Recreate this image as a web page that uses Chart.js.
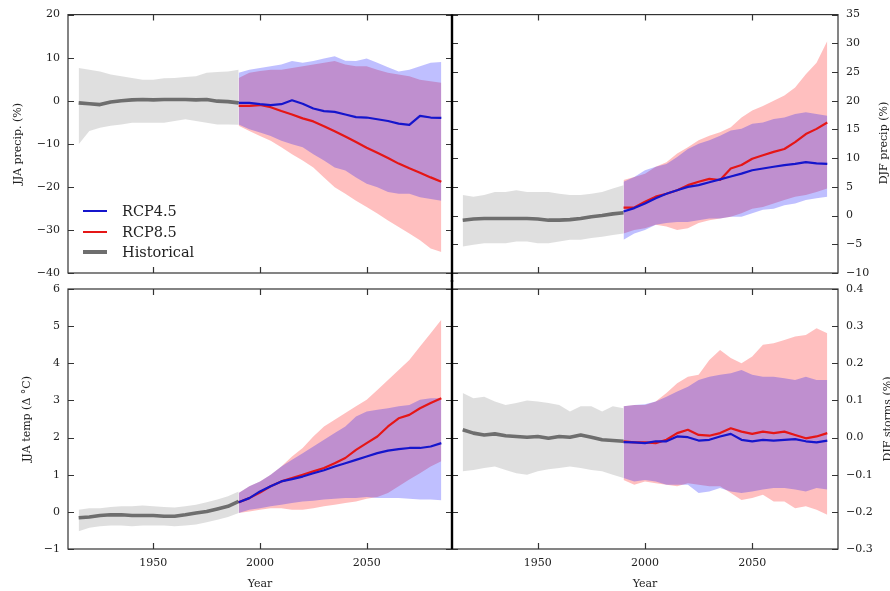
<!DOCTYPE html>
<html><head><meta charset="utf-8">
<script src="https://cdn.jsdelivr.net/npm/chart.js@4.4.0/dist/chart.umd.min.js"></script>
<style>
html,body{margin:0;padding:0;background:#fff;}
#wrap{position:relative;width:890px;height:591px;overflow:hidden;background:#fff;font-family:'DejaVu Serif',serif;}
#wrap canvas{position:absolute;left:0;top:0;}
.rt{position:absolute;white-space:nowrap;font-size:11px;color:#222;transform:translate(-50%,-50%) rotate(-90deg);}
#legend{position:absolute;left:83px;top:201px;font-size:14.5px;color:#222;}
.li{display:flex;align-items:center;height:20.5px;}
.sw{width:24px;margin-right:15px;}
</style></head><body>
<div id="wrap">
<canvas id="cTL" width="890" height="591"></canvas>
<canvas id="cTR" width="890" height="591"></canvas>
<canvas id="cBL" width="890" height="591"></canvas>
<canvas id="cBR" width="890" height="591"></canvas>
<div class="rt" style="left:883px;top:143px">DJF precip (%)</div>
<div class="rt" style="left:887px;top:419px">DJF storms (%)</div>
<div id="legend"></div>
</div>
<script>
// ---------- data ----------
const histYears = [1915,1920,1925,1930,1935,1940,1945,1950,1955,1960,1965,1970,1975,1980,1985,1990];
const rcpYears  = [1990,1995,2000,2005,2010,2015,2020,2025,2030,2035,2040,2045,2050,2055,2060,2065,2070,2075,2080,2085];
const xTicks = [1950, 2000, 2050];
const legendOrder = ['RCP4.5', 'RCP8.5', 'Historical'];

// JJA precip (%)
const tlYTicks = [-40,-30,-20,-10,0,10,20];
const tlHist   = [-0.5,-0.7,-0.9,-0.3,0.0,0.2,0.3,0.2,0.3,0.3,0.3,0.2,0.3,-0.1,-0.2,-0.5];
const tlHistHi = [7.6,7.2,6.8,6.1,5.7,5.3,4.9,4.9,5.2,5.3,5.5,5.7,6.5,6.7,6.8,7.2];
const tlHistLo = [-10.1,-7.0,-6.3,-5.8,-5.5,-5.1,-5.1,-5.1,-5.1,-4.7,-4.3,-4.7,-5.1,-5.5,-5.5,-5.6];
const tlR45    = [-0.5,-0.5,-0.8,-1.0,-0.8,0.1,-0.7,-1.8,-2.4,-2.6,-3.2,-3.8,-3.9,-4.3,-4.7,-5.3,-5.6,-3.5,-3.9,-4.0];
const tlR45Hi  = [6.5,7.2,7.6,8.0,8.4,9.2,8.8,9.2,9.8,10.3,9.3,9.2,9.8,8.8,7.8,6.8,7.2,8.0,8.8,9.0];
const tlR45Lo  = [-5.5,-6.6,-7.4,-8.2,-9.3,-10.1,-10.8,-12.4,-13.9,-15.5,-16.2,-17.8,-19.3,-20.1,-21.2,-21.6,-21.6,-22.4,-22.8,-23.2];
const tlR85    = [-1.2,-1.2,-1.0,-1.5,-2.4,-3.2,-4.1,-4.8,-5.9,-7.1,-8.3,-9.6,-10.9,-12.1,-13.3,-14.6,-15.7,-16.7,-17.8,-18.8];
const tlR85Hi  = [5.3,6.5,6.9,7.2,7.2,7.6,8.0,8.4,8.8,9.2,8.4,8.0,8.0,7.2,6.5,6.1,5.7,4.9,4.5,4.2];
const tlR85Lo  = [-5.8,-7.0,-8.2,-9.3,-10.8,-12.4,-13.9,-15.5,-17.8,-20.1,-21.6,-23.2,-24.7,-26.2,-27.8,-29.3,-30.8,-32.4,-34.3,-35.1];

// DJF precip (%)
const trYTicks = [-10,-5,0,5,10,15,20,25,30,35];
const trHist   = [-0.8,-0.6,-0.5,-0.5,-0.5,-0.5,-0.5,-0.6,-0.8,-0.8,-0.7,-0.5,-0.2,0.0,0.3,0.5];
const trHistHi = [3.6,3.3,3.6,4.1,4.1,4.4,4.1,4.1,4.1,3.8,3.6,3.6,3.8,4.1,4.7,5.3];
const trHistLo = [-5.4,-5.1,-4.8,-4.8,-4.8,-4.5,-4.5,-4.8,-4.8,-4.5,-4.2,-4.2,-3.9,-3.7,-3.4,-3.1];
const trR45    = [0.7,1.3,2.1,3.0,3.8,4.4,5.0,5.3,5.8,6.3,6.8,7.3,7.9,8.2,8.5,8.8,9.0,9.3,9.1,9.0];
const trR45Hi  = [5.9,6.7,7.9,8.5,9.0,10.2,11.6,12.5,13.1,13.9,14.8,15.1,16.0,16.2,16.8,17.1,17.7,18.0,17.7,17.4];
const trR45Lo  = [-4.2,-3.1,-2.5,-1.6,-1.3,-1.1,-1.1,-0.8,-0.5,-0.5,-0.2,-0.2,0.4,1.0,1.2,1.8,2.1,2.7,3.0,3.3];
const trR85    = [1.4,1.4,2.4,3.3,3.8,4.4,5.3,5.9,6.4,6.2,8.2,8.8,9.9,10.5,11.1,11.6,12.8,14.2,15.1,16.2];
const trR85Hi  = [6.2,6.7,7.3,8.5,9.3,10.8,11.9,13.1,13.9,14.5,15.4,17.1,18.3,19.1,20.0,20.9,22.3,24.6,26.6,30.4];
const trR85Lo  = [-3.1,-2.5,-2.2,-1.6,-1.9,-2.5,-2.2,-1.3,-0.8,-0.5,-0.2,0.4,1.2,1.5,2.1,2.7,3.3,3.6,4.1,4.7];

// JJA temp (Δ °C)
const blYTicks = [-1,0,1,2,3,4,5,6];
const blHist   = [-0.16,-0.14,-0.10,-0.08,-0.08,-0.10,-0.10,-0.10,-0.12,-0.12,-0.08,-0.03,0.01,0.08,0.15,0.28];
const blHistHi = [0.06,0.10,0.10,0.13,0.15,0.15,0.17,0.15,0.13,0.12,0.15,0.19,0.26,0.33,0.42,0.55];
const blHistLo = [-0.52,-0.43,-0.39,-0.37,-0.37,-0.39,-0.37,-0.37,-0.37,-0.39,-0.37,-0.34,-0.28,-0.21,-0.14,-0.03];
const blR45    = [0.26,0.37,0.55,0.69,0.82,0.88,0.95,1.04,1.12,1.22,1.31,1.40,1.49,1.58,1.65,1.69,1.72,1.72,1.76,1.85];
const blR45Hi  = [0.51,0.69,0.82,1.00,1.22,1.40,1.58,1.76,1.94,2.12,2.30,2.57,2.70,2.75,2.79,2.84,2.88,3.02,3.06,3.06];
const blR45Lo  = [-0.03,0.06,0.10,0.15,0.19,0.24,0.28,0.30,0.33,0.35,0.37,0.37,0.40,0.37,0.37,0.37,0.35,0.33,0.33,0.31];
const blR85    = [0.26,0.37,0.52,0.69,0.82,0.91,1.00,1.09,1.18,1.31,1.45,1.67,1.85,2.03,2.30,2.52,2.61,2.79,2.93,3.06];
const blR85Hi  = [0.51,0.69,0.82,1.00,1.22,1.49,1.72,2.03,2.30,2.48,2.66,2.84,3.02,3.28,3.55,3.82,4.09,4.45,4.81,5.17];
const blR85Lo  = [-0.03,0.01,0.06,0.10,0.10,0.06,0.06,0.10,0.15,0.19,0.24,0.28,0.35,0.40,0.51,0.69,0.87,1.04,1.22,1.36];

// DJF storms (%)
const brYTicks = [-0.3,-0.2,-0.1,0.0,0.1,0.2,0.3,0.4];
const brHist   = [0.021,0.012,0.007,0.010,0.005,0.003,0.001,0.003,-0.002,0.003,0.001,0.007,0.001,-0.006,-0.008,-0.010];
const brHistHi = [0.120,0.106,0.110,0.097,0.088,0.093,0.100,0.097,0.093,0.088,0.070,0.084,0.084,0.070,0.084,0.079];
const brHistLo = [-0.091,-0.087,-0.082,-0.078,-0.087,-0.096,-0.100,-0.091,-0.085,-0.082,-0.078,-0.082,-0.087,-0.091,-0.100,-0.109];
const brR45    = [-0.012,-0.013,-0.015,-0.010,-0.010,0.003,0.001,-0.008,-0.006,0.003,0.010,-0.006,-0.010,-0.006,-0.008,-0.006,-0.004,-0.010,-0.013,-0.008];
const brR45Hi  = [0.084,0.088,0.090,0.097,0.110,0.124,0.137,0.155,0.164,0.169,0.173,0.182,0.169,0.164,0.164,0.160,0.155,0.164,0.155,0.155];
const brR45Lo  = [-0.109,-0.118,-0.114,-0.118,-0.127,-0.127,-0.127,-0.149,-0.145,-0.136,-0.145,-0.149,-0.145,-0.140,-0.136,-0.136,-0.140,-0.145,-0.136,-0.140];
const brR85    = [-0.010,-0.013,-0.013,-0.015,-0.006,0.012,0.021,0.007,0.005,0.012,0.025,0.016,0.010,0.016,0.012,0.016,0.007,-0.002,0.003,0.012];
const brR85Hi  = [0.084,0.088,0.088,0.097,0.120,0.146,0.164,0.169,0.209,0.236,0.214,0.200,0.218,0.250,0.254,0.263,0.272,0.276,0.294,0.281];
const brR85Lo  = [-0.114,-0.127,-0.118,-0.123,-0.127,-0.131,-0.123,-0.127,-0.131,-0.131,-0.149,-0.168,-0.163,-0.154,-0.172,-0.172,-0.190,-0.185,-0.194,-0.208];

// ---------- styling ----------
const C = {
  histLine: '#6e6e6e', r45Line: '#1515cc', r85Line: '#e51616',
  histFill: 'rgba(128,128,128,0.25)', r45Fill: 'rgba(0,0,255,0.25)', r85Fill: 'rgba(255,0,0,0.25)',
  frame: '#333', text: '#222'
};
const FONT = {family: "'DejaVu Serif', serif", size: 11};
const minus = s => String(s).replace('-', '\u2212');

const pts = (xs, ys) => xs.map((x, i) => ({x: x, y: ys[i]}));
const lineDs = (label, xs, ys, color, w, order) => ({
  label, data: pts(xs, ys), borderColor: color, backgroundColor: color, borderWidth: w,
  pointRadius: 0, fill: false, tension: 0, order, borderJoinStyle: 'round'
});
const edgeDs = (xs, ys, order) => ({
  data: pts(xs, ys), borderColor: 'rgba(0,0,0,0)', borderWidth: 0, pointRadius: 0, fill: false, order
});
const fillDs = (xs, ys, color, order) => ({
  data: pts(xs, ys), borderColor: 'rgba(0,0,0,0)', borderWidth: 0, pointRadius: 0,
  fill: '-1', backgroundColor: color, order
});

const framePlugin = {
  id: 'frame',
  afterDatasetsDraw(chart, args, opts) {
    const {ctx, chartArea: a, scales} = chart;
    ctx.save();
    ctx.strokeStyle = C.frame;
    ctx.lineWidth = 1.2;
    ctx.strokeRect(a.left, a.top, a.right - a.left, a.bottom - a.top);
    const L = 6;
    ctx.beginPath();
    scales.x.ticks.forEach(t => {
      const p = Math.round(scales.x.getPixelForValue(t.value)) + 0.5;
      ctx.moveTo(p, a.top); ctx.lineTo(p, a.top + L);
      ctx.moveTo(p, a.bottom); ctx.lineTo(p, a.bottom - L);
    });
    scales.y.ticks.forEach(t => {
      const p = Math.round(scales.y.getPixelForValue(t.value)) + 0.5;
      ctx.moveTo(a.left, p); ctx.lineTo(a.left + L, p);
      ctx.moveTo(a.right, p); ctx.lineTo(a.right - L, p);
    });
    ctx.stroke();
    if (opts.sep) {
      ctx.strokeStyle = '#000';
      ctx.lineWidth = 2.4;
      ctx.beginPath();
      ctx.moveTo(a.left, a.top - opts.sep[0]);
      ctx.lineTo(a.left, a.bottom + opts.sep[1]);
      ctx.stroke();
    }
    ctx.restore();
  }
};

function makePanel(id, p) {
  const left = p.side === 'left';
  const datasets = [
    lineDs('Historical', histYears, p.hist, C.histLine, 3.6, 2),
    lineDs('RCP4.5', rcpYears, p.r45, C.r45Line, 2.2, 0),
    lineDs('RCP8.5', rcpYears, p.r85, C.r85Line, 2.2, 1),
    edgeDs(histYears, p.histLo, 5),
    fillDs(histYears, p.histHi, C.histFill, 5),
    edgeDs(rcpYears, p.r85Lo, 4),
    fillDs(rcpYears, p.r85Hi, C.r85Fill, 4),
    edgeDs(rcpYears, p.r45Lo, 3),
    fillDs(rcpYears, p.r45Hi, C.r45Fill, 3)
  ];
  return new Chart(document.getElementById(id), {
    type: 'line',
    data: {datasets},
    plugins: [framePlugin],
    options: {
      responsive: false, animation: false, devicePixelRatio: 1,
      events: [],
      layout: {padding: p.pad},
      plugins: {legend: {display: false}, tooltip: {enabled: false}, frame: {sep: p.sep}},
      scales: {
        x: {
          type: 'linear', min: 1910, max: 2090,
          afterBuildTicks: s => { s.ticks = xTicks.map(v => ({value: v})); },
          afterFit: s => { s.height = p.bottom ? 42 : 0; },
          grid: {display: false, drawTicks: false}, border: {display: false},
          ticks: {display: p.bottom, padding: 8, font: FONT, color: C.text, maxRotation: 0, autoSkip: false,
                  callback: v => String(v)},
          title: {display: p.bottom, text: 'Year', padding: {top: 0, bottom: 0}, font: FONT, color: C.text}
        },
        y: {
          type: 'linear', position: p.side, min: p.yTicks[0], max: p.yTicks[p.yTicks.length - 1],
          afterBuildTicks: s => { s.ticks = p.yTicks.map(v => ({value: v})); },
          afterFit: s => { s.width = left ? 68 : 52; },
          grid: {display: false, drawTicks: false}, border: {display: false},
          ticks: {padding: 8, font: FONT, color: C.text, autoSkip: false,
                  callback: v => minus(p.dec ? v.toFixed(p.dec) : v)},
          title: {display: left, text: p.label || '', padding: {top: p.titlePad || 0, bottom: 0}, font: FONT, color: C.text}
        }
      }
    }
  });
}

const TL = makePanel('cTL', {side: 'left', bottom: false, label: 'JJA precip. (%)', titlePad: 11.4,
  pad: {left: 0, top: 13, right: 438, bottom: 318}, yTicks: tlYTicks,
  hist: tlHist, histHi: tlHistHi, histLo: tlHistLo, r45: tlR45, r45Hi: tlR45Hi, r45Lo: tlR45Lo,
  r85: tlR85, r85Hi: tlR85Hi, r85Lo: tlR85Lo});
makePanel('cTR', {side: 'right', bottom: false, sep: [0, 9],
  pad: {left: 452, top: 13, right: 0, bottom: 318}, yTicks: trYTicks,
  hist: trHist, histHi: trHistHi, histLo: trHistLo, r45: trR45, r45Hi: trR45Hi, r45Lo: trR45Lo,
  r85: trR85, r85Hi: trR85Hi, r85Lo: trR85Lo});
makePanel('cBL', {side: 'left', bottom: true, label: 'JJA temp (\u0394 \u00B0C)', titlePad: 20.4,
  pad: {left: 0, top: 289, right: 438, bottom: 0}, yTicks: blYTicks,
  hist: blHist, histHi: blHistHi, histLo: blHistLo, r45: blR45, r45Hi: blR45Hi, r45Lo: blR45Lo,
  r85: blR85, r85Hi: blR85Hi, r85Lo: blR85Lo});
makePanel('cBR', {side: 'right', bottom: true, dec: 1, sep: [9, 0],
  pad: {left: 452, top: 289, right: 0, bottom: 0}, yTicks: brYTicks,
  hist: brHist, histHi: brHistHi, histLo: brHistLo, r45: brR45, r45Hi: brR45Hi, r45Lo: brR45Lo,
  r85: brR85, r85Hi: brR85Hi, r85Lo: brR85Lo});

// legend built from the top-left chart's datasets
const lg = document.getElementById('legend');
legendOrder.forEach(name => {
  const ds = TL.data.datasets.find(d => d.label === name);
  const row = document.createElement('div'); row.className = 'li';
  const sw = document.createElement('div'); sw.className = 'sw';
  sw.style.height = Math.round(ds.borderWidth) + 'px'; sw.style.background = ds.borderColor;
  const tx = document.createElement('span'); tx.textContent = ds.label;
  row.appendChild(sw); row.appendChild(tx); lg.appendChild(row);
});
</script>
</body></html>
